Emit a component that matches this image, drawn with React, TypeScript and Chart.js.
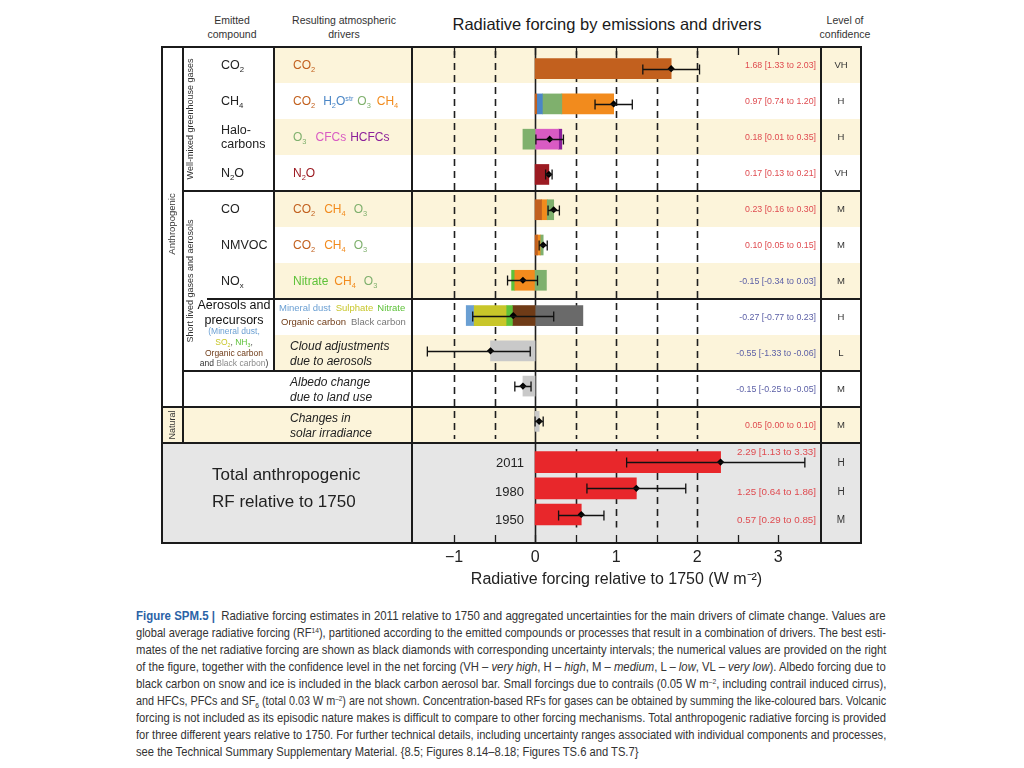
import React, { useEffect, useLayoutEffect, useRef } from "react";
import { Chart, registerables } from "chart.js";

Chart.register(...registerables);

// ---------------- DATA ----------------
const ROWS = [
  "CO2",
  "CH4",
  "Halocarbons",
  "N2O",
  "CO",
  "NMVOC",
  "NOx",
  "Aerosols and precursors",
  "Cloud adjustments due to aerosols",
  "Albedo change due to land use",
  "Changes in solar irradiance",
];

// Contribution of each resulting driver to each emitted compound row (W m-2)
const RF_CO2 = [1.68, 0.02, 0, 0, 0.08, 0.03, 0, 0, 0, 0, 0];
const RF_H2O_STR = [0, 0.07, 0, 0, 0, 0, 0, 0, 0, 0, 0];
const RF_O3 = [0, 0.24, -0.15, 0, 0.08, 0.03, 0.14, 0, 0, 0, 0];
const RF_CH4 = [0, 0.64, 0, 0, 0.07, 0.04, -0.25, 0, 0, 0, 0];
const RF_CFC = [0, 0, 0.29, 0, 0, 0, 0, 0, 0, 0, 0];
const RF_HCFC = [0, 0, 0.04, 0, 0, 0, 0, 0, 0, 0, 0];
const RF_N2O = [0, 0, 0, 0.17, 0, 0, 0, 0, 0, 0, 0];
const RF_NITRATE = [0, 0, 0, 0, 0, 0, -0.04, -0.07, 0, 0, 0];
const RF_DUST = [0, 0, 0, 0, 0, 0, 0, -0.09, 0, 0, 0];
const RF_SULPHATE = [0, 0, 0, 0, 0, 0, 0, -0.41, 0, 0, 0];
const RF_ORGANIC = [0, 0, 0, 0, 0, 0, 0, -0.28, 0, 0, 0];
const RF_BLACK = [0, 0, 0, 0, 0, 0, 0, 0.59, 0, 0, 0];
const RF_CLOUD = [0, 0, 0, 0, 0, 0, 0, 0, -0.55, 0, 0];
const RF_ALBEDO = [0, 0, 0, 0, 0, 0, 0, 0, 0, -0.15, 0];
const RF_SOLAR = [0, 0, 0, 0, 0, 0, 0, 0, 0, 0, 0.05];

// Stacking order of the drivers within each row (outward from zero)
const STACK_ORDER = [
  ["CO2"],
  ["CO2", "H2O", "O3", "CH4"],
  ["CFC", "HCFC", "O3"],
  ["N2O"],
  ["CO2", "CH4", "O3"],
  ["CO2", "CH4", "O3"],
  ["CH4", "NITRATE", "O3"],
  ["ORGANIC", "NITRATE", "SULPHATE", "DUST", "BLACK"],
  ["CLOUD"],
  ["ALBEDO"],
  ["SOLAR"],
];

// Net best estimates and uncertainty ranges
const BEST = [1.68, 0.97, 0.18, 0.17, 0.23, 0.1, -0.15, -0.27, -0.55, -0.15, 0.05];
const LOW = [1.33, 0.74, 0.01, 0.13, 0.16, 0.05, -0.34, -0.77, -1.33, -0.25, 0.0];
const HIGH = [2.03, 1.2, 0.35, 0.21, 0.3, 0.15, 0.03, 0.23, -0.06, -0.05, 0.1];
const CONFIDENCE = ["VH", "H", "H", "VH", "M", "M", "M", "H", "L", "M", "M"];

// Total anthropogenic RF relative to 1750
const TOTAL_YEARS = ["2011", "1980", "1950"];
const TOTAL_BEST = [2.29, 1.25, 0.57];
const TOTAL_LOW = [1.13, 0.64, 0.29];
const TOTAL_HIGH = [3.33, 1.86, 0.85];
const TOTAL_CONFIDENCE = ["H", "H", "M"];

// Axis
const X_MIN = -1.47;
const X_MAX = 3.48;
const X_TICKS = [-1, 0, 1, 2, 3];
const TICK_MARKS = [-1, -0.5, 0, 0.5, 1, 1.5, 2, 2.5, 3];
const DASHED_UPPER = [-1, -0.5, 0.5, 1, 1.5, 2];
const DASHED_TOTAL = [0.5, 1, 1.5, 2];

// ---------------- STYLE ----------------
const FONT = "'Liberation Sans', Arial, Helvetica, sans-serif";
const C = {
  CO2: "#c2601e",
  H2O: "#4b86c6",
  O3: "#7fb06d",
  CH4: "#f28b1d",
  CFC: "#d95bc3",
  HCFC: "#8c1f9a",
  N2O: "#9c1b22",
  NITRATE: "#5ec23a",
  DUST: "#6a9fd3",
  SULPHATE: "#c8c62a",
  ORGANIC: "#6f3b17",
  BLACK: "#6a6a6a",
  GREY: "#c9c9c9",
  TOTAL: "#e8272b",
};
const BAND = "#fcf4da";
const POS_TXT = "#df4b50";
const NEG_TXT = "#5b5fa6";

const DRIVERS: { key: string; label: string; values: number[]; color: string }[] = [
  { key: "CO2", label: "CO2", values: RF_CO2, color: C.CO2 },
  { key: "H2O", label: "H2O (stratospheric)", values: RF_H2O_STR, color: C.H2O },
  { key: "O3", label: "O3", values: RF_O3, color: C.O3 },
  { key: "CH4", label: "CH4", values: RF_CH4, color: C.CH4 },
  { key: "CFC", label: "CFCs", values: RF_CFC, color: C.CFC },
  { key: "HCFC", label: "HCFCs", values: RF_HCFC, color: C.HCFC },
  { key: "N2O", label: "N2O", values: RF_N2O, color: C.N2O },
  { key: "NITRATE", label: "Nitrate", values: RF_NITRATE, color: C.NITRATE },
  { key: "DUST", label: "Mineral dust", values: RF_DUST, color: C.DUST },
  { key: "SULPHATE", label: "Sulphate", values: RF_SULPHATE, color: C.SULPHATE },
  { key: "ORGANIC", label: "Organic carbon", values: RF_ORGANIC, color: C.ORGANIC },
  { key: "BLACK", label: "Black carbon", values: RF_BLACK, color: C.BLACK },
  { key: "CLOUD", label: "Cloud adjustments", values: RF_CLOUD, color: C.GREY },
  { key: "ALBEDO", label: "Albedo change", values: RF_ALBEDO, color: C.GREY },
  { key: "SOLAR", label: "Solar irradiance", values: RF_SOLAR, color: C.GREY },
];

// Layout
const TOP = 47;
const ROW_H = 36;
const X0 = 162;
const X_CAT = 183;
const X_EMIT = 274;
const X_PLOT = 412;
const X_VAL = 821;
const X_END = 861;
const Y_TOTAL = TOP + ROW_H * ROWS.length; // 443
const Y_BOTTOM = 543;
const rowY = (i: number) => TOP + ROW_H * i;
const rowC = (i: number) => TOP + ROW_H * i + ROW_H / 2;
const totalC = (i: number) => 463 + 28.5 * i;

const fmt = (v: number) => v.toFixed(2);

// floating ranges from the stacking order
function buildRanges() {
  const byKey: Record<string, ([number, number] | null)[]> = {};
  DRIVERS.forEach((d) => (byKey[d.key] = ROWS.map(() => null)));
  STACK_ORDER.forEach((order, r) => {
    let pos = 0;
    let neg = 0;
    order.forEach((k) => {
      const d = DRIVERS.find((dd) => dd.key === k)!;
      const v = d.values[r];
      if (v > 0) {
        byKey[k][r] = [pos, pos + v];
        pos += v;
      } else if (v < 0) {
        byKey[k][r] = [neg + v, neg];
        neg += v;
      }
    });
  });
  return byKey;
}

// ---------------- PLUGINS ----------------
function makeRefLines(cfg: {
  dashed: number[];
  dashTop?: number;
  zeroTop: number;
  zeroBottom: number;
  topTicks?: boolean;
  bottomTickY?: number;
}) {
  return {
    id: "refLines",
    beforeDatasetsDraw(chart: any) {
      const { ctx, chartArea, scales } = chart;
      const x = scales.x;
      ctx.save();
      ctx.strokeStyle = "#1e1e1e";
      ctx.lineWidth = 1.6;
      ctx.setLineDash([7, 5]);
      cfg.dashed.forEach((v) => {
        const px = Math.round(x.getPixelForValue(v)) + 0.5;
        ctx.beginPath();
        ctx.moveTo(px, cfg.dashTop ?? chartArea.top);
        ctx.lineTo(px, chartArea.bottom);
        ctx.stroke();
      });
      ctx.setLineDash([]);
      const z = Math.round(x.getPixelForValue(0)) + 0.5;
      ctx.lineWidth = 1.6;
      ctx.beginPath();
      ctx.moveTo(z, cfg.zeroTop);
      ctx.lineTo(z, cfg.zeroBottom);
      ctx.stroke();
      ctx.lineWidth = 1.3;
      TICK_MARKS.forEach((v) => {
        const px = Math.round(x.getPixelForValue(v)) + 0.5;
        if (cfg.topTicks) {
          ctx.beginPath();
          ctx.moveTo(px, 0);
          ctx.lineTo(px, 8);
          ctx.stroke();
        }
        if (cfg.bottomTickY !== undefined) {
          ctx.beginPath();
          ctx.moveTo(px, cfg.bottomTickY);
          ctx.lineTo(px, cfg.bottomTickY - 8);
          ctx.stroke();
        }
      });
      ctx.restore();
    },
  };
}

function makeErrorBars(low: number[], high: number[], cap: number) {
  return {
    id: "errorBars",
    afterDatasetsDraw(chart: any) {
      const { ctx, scales } = chart;
      const x = scales.x;
      const y = scales.y;
      ctx.save();
      ctx.strokeStyle = "#111";
      ctx.lineWidth = 1.3;
      low.forEach((lo, i) => {
        const yp = Math.round(y.getPixelForValue(i)) + 0.5;
        const x0 = x.getPixelForValue(lo);
        const x1 = x.getPixelForValue(high[i]);
        ctx.beginPath();
        ctx.moveTo(x0, yp);
        ctx.lineTo(x1, yp);
        ctx.moveTo(x0, yp - cap);
        ctx.lineTo(x0, yp + cap);
        ctx.moveTo(x1, yp - cap);
        ctx.lineTo(x1, yp + cap);
        ctx.stroke();
      });
      ctx.restore();
    },
  };
}

const diamondDataset = (data: number[]) => ({
  type: "line" as const,
  label: "Best estimate",
  data,
  indexAxis: "y" as const,
  showLine: false,
  pointStyle: "rectRot",
  pointRadius: 3.6,
  pointBackgroundColor: "#000",
  pointBorderColor: "#000",
  pointBorderWidth: 0,
  borderColor: "#000",
  order: -1,
});

// ---------------- CHARTS ----------------
function UpperChart() {
  const ref = useRef<HTMLCanvasElement>(null);
  useEffect(() => {
    const ranges = buildRanges();
    const chart = new Chart(ref.current!, {
      type: "bar",
      data: {
        labels: ROWS,
        datasets: [
          diamondDataset(BEST) as any,
          ...DRIVERS.map((d) => ({
            type: "bar" as const,
            label: d.label,
            data: ranges[d.key] as any,
            backgroundColor: d.color,
            borderWidth: 0,
            grouped: false,
            barThickness: 20,
          })),
        ],
      },
      options: {
        indexAxis: "y",
        responsive: false,
        animation: false,
        events: [],
        layout: { padding: 0 },
        plugins: { legend: { display: false }, tooltip: { enabled: false } },
        scales: {
          x: { type: "linear", min: X_MIN, max: X_MAX, display: false },
          y: { type: "category", display: false, offset: true },
        },
      },
      plugins: [
        makeRefLines({ dashed: DASHED_UPPER, zeroTop: 0, zeroBottom: 400, topTicks: true }),
        makeErrorBars(LOW, HIGH, 5),
      ],
    });
    return () => chart.destroy();
  }, []);
  return (
    <canvas
      ref={ref}
      width={X_VAL - X_PLOT}
      height={Y_TOTAL - TOP}
      style={{ position: "absolute", left: X_PLOT, top: TOP }}
    />
  );
}

function TotalChart() {
  const ref = useRef<HTMLCanvasElement>(null);
  useEffect(() => {
    const chart = new Chart(ref.current!, {
      type: "bar",
      data: {
        labels: TOTAL_YEARS,
        datasets: [
          diamondDataset(TOTAL_BEST) as any,
          {
            type: "bar",
            label: "Total anthropogenic RF",
            data: TOTAL_BEST,
            backgroundColor: C.TOTAL,
            borderWidth: 0,
            grouped: false,
            barThickness: 21,
          },
        ],
      },
      options: {
        indexAxis: "y",
        responsive: false,
        animation: false,
        events: [],
        layout: { padding: { top: 6, left: 0, right: 0, bottom: 0 } },
        plugins: { legend: { display: false }, tooltip: { enabled: false } },
        scales: {
          x: {
            type: "linear",
            min: X_MIN,
            max: X_MAX,
            position: "bottom",
            grid: { display: false, drawTicks: false },
            border: { display: false },
            afterBuildTicks: (s: any) => {
              s.ticks = X_TICKS.map((v) => ({ value: v }));
            },
            ticks: {
              padding: 20,
              color: "#222",
              font: { family: FONT, size: 16 },
              callback: (v: any) => (Number(v) < 0 ? "\u2212" + Math.abs(Number(v)) : String(v)),
            },
            title: {
              display: true,
              text: "Radiative forcing relative to 1750 (W m\u207B\u00B2)",
              color: "#222",
              font: { family: FONT, size: 16 },
              padding: { top: -17, bottom: 2 },
            },
          },
          y: { type: "category", display: false, offset: true },
        },
      },
      plugins: [
        makeRefLines({
          dashed: DASHED_TOTAL,
          zeroTop: 0,
          zeroBottom: Y_BOTTOM - Y_TOTAL,
          bottomTickY: Y_BOTTOM - Y_TOTAL,
        }),
        makeErrorBars(TOTAL_LOW, TOTAL_HIGH, 5),
      ],
    });
    return () => chart.destroy();
  }, []);
  return (
    <canvas
      ref={ref}
      width={X_VAL - X_PLOT}
      height={148}
      style={{ position: "absolute", left: X_PLOT, top: Y_TOTAL }}
    />
  );
}

// ---------------- HTML HELPERS ----------------
const S = ({ c }: { c: string }) => (
  <span style={{ fontSize: "0.62em", position: "relative", top: "0.35em" }}>{c}</span>
);
const Sup = ({ c }: { c: string }) => (
  <span style={{ fontSize: "0.6em", position: "relative", top: "-0.5em" }}>{c}</span>
);

function HLine({ x1, x2, y }: { x1: number; x2: number; y: number }) {
  return <div style={{ position: "absolute", left: x1 - 1, top: y - 1, width: x2 - x1 + 2, height: 2, background: "#1b1b1b" }} />;
}
function VLine({ x, y1, y2 }: { x: number; y1: number; y2: number }) {
  return <div style={{ position: "absolute", left: x - 1, top: y1 - 1, width: 2, height: y2 - y1 + 2, background: "#1b1b1b" }} />;
}

function T({
  x,
  y,
  size,
  children,
  color = "#222",
  align = "left",
  w = 300,
  italic = false,
  bold = false,
  lh = 1.2,
}: any) {
  const left = align === "left" ? x : align === "center" ? x - w / 2 : x - w;
  return (
    <div
      style={{
        position: "absolute",
        left,
        top: y,
        width: w,
        transform: "translateY(-50%)",
        fontSize: size,
        lineHeight: lh,
        color,
        textAlign: align,
        fontStyle: italic ? "italic" : "normal",
        fontWeight: bold ? "bold" : "normal",
        whiteSpace: "nowrap",
      }}
    >
      {children}
    </div>
  );
}

function Rot({ x, y, size, children }: any) {
  return (
    <div
      style={{
        position: "absolute",
        left: x,
        top: y,
        transform: "translate(-50%, -50%) rotate(-90deg)",
        fontSize: size,
        color: "#333",
        whiteSpace: "nowrap",
        lineHeight: 1,
      }}
    >
      {children}
    </div>
  );
}

const CAPTION_LINES: React.ReactNode[] = [
  <>
    <b style={{ color: "#2a62a6" }}>Figure SPM.5 |</b>&nbsp; Radiative forcing estimates in 2011 relative to 1750 and aggregated uncertainties for the main drivers of climate change. Values are
  </>,
  <>
    global average radiative forcing (RF<Sup c="14" />), partitioned according to the emitted compounds or processes that result in a combination of drivers. The best esti-
  </>,
  <>mates of the net radiative forcing are shown as black diamonds with corresponding uncertainty intervals; the numerical values are provided on the right</>,
  <>
    of the figure, together with the confidence level in the net forcing (VH – <i>very high</i>, H – <i>high</i>, M – <i>medium</i>, L – <i>low</i>, VL – <i>very low</i>). Albedo forcing due to
  </>,
  <>
    black carbon on snow and ice is included in the black carbon aerosol bar. Small forcings due to contrails (0.05 W m<Sup c="–2" />, including contrail induced cirrus),
  </>,
  <>
    and HFCs, PFCs and SF<S c="6" /> (total 0.03 W m<Sup c="–2" />) are not shown. Concentration-based RFs for gases can be obtained by summing the like-coloured bars. Volcanic
  </>,
  <>forcing is not included as its episodic nature makes is difficult to compare to other forcing mechanisms. Total anthropogenic radiative forcing is provided</>,
  <>for three different years relative to 1750. For further technical details, including uncertainty ranges associated with individual components and processes,</>,
  <>see the Technical Summary Supplementary Material. {"{"}8.5; Figures 8.14–8.18; Figures TS.6 and TS.7{"}"}</>,
];

function Caption() {
  const refs = useRef<(HTMLSpanElement | null)[]>([]);
  useLayoutEffect(() => {
    const widths = refs.current.map((el) => (el ? el.offsetWidth : 1));
    const n = widths.length;
    const scales = widths.map((w) => 750 / w);
    const avg = scales.slice(0, n - 1).reduce((a, b) => a + b, 0) / (n - 1);
    refs.current.forEach((el, i) => {
      if (!el) return;
      const s = i === n - 1 ? avg : scales[i];
      el.style.transform = `scaleX(${s})`;
    });
  }, []);
  return (
    <>
      {CAPTION_LINES.map((l, i) => (
        <div
          key={"cap" + i}
          style={{
            position: "absolute",
            left: 136,
            top: 607 + 17 * i,
            height: 17,
            lineHeight: "17px",
            fontSize: 13,
            color: "#333",
            whiteSpace: "nowrap",
          }}
        >
          <span
            ref={(el) => {
              refs.current[i] = el;
            }}
            style={{ display: "inline-block", transformOrigin: "0 0" }}
          >
            {l}
          </span>
        </div>
      ))}
    </>
  );
}

const DRIVER_TEXT: React.ReactNode[] = [
  <span style={{ color: C.CO2 }}>CO<S c="2" /></span>,
  <>
    <span style={{ color: C.CO2 }}>CO<S c="2" /></span>
    <span style={{ color: C.H2O, marginLeft: 8 }}>H<S c="2" />O<Sup c="str" /></span>
    <span style={{ color: C.O3, marginLeft: 4 }}>O<S c="3" /></span>
    <span style={{ color: C.CH4, marginLeft: 6 }}>CH<S c="4" /></span>
  </>,
  <>
    <span style={{ color: C.O3 }}>O<S c="3" /></span>
    <span style={{ color: C.CFC, marginLeft: 9 }}>CFCs</span>
    <span style={{ color: C.HCFC, marginLeft: 4 }}>HCFCs</span>
  </>,
  <span style={{ color: C.N2O }}>N<S c="2" />O</span>,
  <>
    <span style={{ color: C.CO2 }}>CO<S c="2" /></span>
    <span style={{ color: C.CH4, marginLeft: 9 }}>CH<S c="4" /></span>
    <span style={{ color: C.O3, marginLeft: 8 }}>O<S c="3" /></span>
  </>,
  <>
    <span style={{ color: C.CO2 }}>CO<S c="2" /></span>
    <span style={{ color: C.CH4, marginLeft: 9 }}>CH<S c="4" /></span>
    <span style={{ color: C.O3, marginLeft: 8 }}>O<S c="3" /></span>
  </>,
  <>
    <span style={{ color: C.NITRATE }}>Nitrate</span>
    <span style={{ color: C.CH4, marginLeft: 6 }}>CH<S c="4" /></span>
    <span style={{ color: C.O3, marginLeft: 8 }}>O<S c="3" /></span>
  </>,
];

const EMITTED_TEXT: React.ReactNode[] = [
  <>CO<S c="2" /></>,
  <>CH<S c="4" /></>,
  <>Halo-<br />carbons</>,
  <>N<S c="2" />O</>,
  <>CO</>,
  <>NMVOC</>,
  <>NO<S c="x" /></>,
];

export default function App() {
  const bands = [0, 2, 4, 6, 8, 10];
  return (
    <div
      style={{
        position: "absolute",
        left: 0,
        top: 0,
        width: 1024,
        height: 768,
        background: "#fff",
        fontFamily: FONT,
        overflow: "hidden",
      }}
    >
      {/* row bands */}
      {bands.map((i) => (
        <div
          key={"b" + i}
          style={{
            position: "absolute",
            left: i === 10 ? X0 : X_EMIT,
            top: rowY(i),
            width: X_END - (i === 10 ? X0 : X_EMIT),
            height: ROW_H,
            background: BAND,
          }}
        />
      ))}
      {/* totals background */}
      <div style={{ position: "absolute", left: X0, top: Y_TOTAL, width: X_END - X0, height: Y_BOTTOM - Y_TOTAL, background: "#e6e6e6" }} />

      <UpperChart />
      <TotalChart />

      {/* frame */}
      <HLine x1={X0} x2={X_END} y={TOP} />
      <HLine x1={X_CAT} x2={X_END} y={rowY(4)} />
      <HLine x1={208} x2={X_END} y={rowY(7)} />
      <HLine x1={X_CAT} x2={X_END} y={rowY(9)} />
      <HLine x1={X0} x2={X_END} y={rowY(10)} />
      <HLine x1={X0} x2={X_END} y={Y_TOTAL} />
      <HLine x1={X0} x2={X_END} y={Y_BOTTOM} />
      <VLine x={X0} y1={TOP} y2={Y_BOTTOM} />
      <VLine x={X_CAT} y1={TOP} y2={Y_TOTAL} />
      <VLine x={X_EMIT} y1={TOP} y2={rowY(9)} />
      <VLine x={X_PLOT} y1={TOP} y2={Y_BOTTOM} />
      <VLine x={X_VAL} y1={TOP} y2={Y_BOTTOM} />
      <VLine x={X_END} y1={TOP} y2={Y_BOTTOM} />

      {/* headers */}
      <T x={232} y={20} size={10.5} align="center" w={120} color="#333">Emitted</T>
      <T x={232} y={34} size={10.5} align="center" w={120} color="#333">compound</T>
      <T x={344} y={20} size={10.5} align="center" w={140} color="#333">Resulting atmospheric</T>
      <T x={344} y={34} size={10.5} align="center" w={140} color="#333">drivers</T>
      <T x={607} y={25} size={16.5} align="center" w={400} color="#1a1a1a">Radiative forcing by emissions and drivers</T>
      <T x={845} y={20} size={10.5} align="center" w={80} color="#333">Level of</T>
      <T x={845} y={34} size={10.5} align="center" w={80} color="#333">confidence</T>

      {/* rotated category labels */}
      <Rot x={172} y={(TOP + rowY(10)) / 2 - 3} size={9.5}>Anthropogenic</Rot>
      <Rot x={172} y={rowC(10)} size={9}>Natural</Rot>
      <Rot x={190} y={(TOP + rowY(4)) / 2} size={9}>Well-mixed greenhouse gases</Rot>
      <Rot x={190} y={(rowY(4) + rowY(9)) / 2} size={9}>Short lived gases and aerosols</Rot>

      {/* emitted compounds */}
      {EMITTED_TEXT.map((t, i) => (
        <T key={"e" + i} x={221} y={rowC(i)} size={12.5} color="#222" lh={1.15}>{t}</T>
      ))}
      <T x={234} y={305} size={12.5} align="center" w={90} color="#111">Aerosols and</T>
      <T x={234} y={320} size={12.5} align="center" w={90} color="#111">precursors</T>
      <T x={234} y={331} size={8.5} align="center" w={90} color={C.DUST}>(Mineral dust,</T>
      <T x={234} y={342} size={8.5} align="center" w={90}>
        <span style={{ color: C.SULPHATE }}>SO<S c="2" /></span>
        <span style={{ color: "#555" }}>, </span>
        <span style={{ color: C.NITRATE }}>NH<S c="3" /></span>
        <span style={{ color: "#555" }}>,</span>
      </T>
      <T x={234} y={353} size={8.5} align="center" w={90} color={C.ORGANIC}>Organic carbon</T>
      <T x={234} y={363} size={8.5} align="center" w={90} color="#333">
        and <span style={{ color: "#8a8a8a" }}>Black carbon</span>)
      </T>

      {/* drivers */}
      {DRIVER_TEXT.map((t, i) => (
        <T key={"d" + i} x={293} y={rowC(i)} size={12}>{t}</T>
      ))}
      <T x={279} y={308} size={9.5}>
        <span style={{ color: C.DUST }}>Mineral dust</span>
        <span style={{ color: C.SULPHATE, marginLeft: 5 }}>Sulphate</span>
        <span style={{ color: C.NITRATE, marginLeft: 4 }}>Nitrate</span>
      </T>
      <T x={281} y={322} size={9.5}>
        <span style={{ color: C.ORGANIC }}>Organic carbon</span>
        <span style={{ color: "#777", marginLeft: 5 }}>Black carbon</span>
      </T>
      <T x={290} y={rowC(8) - 7} size={12} italic color="#222">Cloud adjustments</T>
      <T x={290} y={rowC(8) + 8} size={12} italic color="#222">due to aerosols</T>
      <T x={290} y={rowC(9) - 7} size={12} italic color="#222">Albedo change</T>
      <T x={290} y={rowC(9) + 8} size={12} italic color="#222">due to land use</T>
      <T x={290} y={rowC(10) - 7} size={12} italic color="#222">Changes in</T>
      <T x={290} y={rowC(10) + 8} size={12} italic color="#222">solar irradiance</T>

      {/* values and confidence */}
      {BEST.map((b, i) => (
        <T key={"v" + i} x={816} y={rowC(i)} size={8.8} align="right" w={140} color={b >= 0 ? POS_TXT : NEG_TXT}>
          {`${fmt(b)} [${fmt(LOW[i])} to ${fmt(HIGH[i])}]`}
        </T>
      ))}
      {CONFIDENCE.map((c, i) => (
        <T key={"c" + i} x={841} y={rowC(i)} size={9.5} align="center" w={40} color="#333">{c}</T>
      ))}

      {/* totals */}
      <T x={212} y={475} size={17} color="#222">Total anthropogenic</T>
      <T x={212} y={502} size={17} color="#222">RF relative to 1750</T>
      {TOTAL_YEARS.map((yr, i) => (
        <T key={"y" + i} x={524} y={totalC(i)} size={13} align="right" w={60} color="#222">{yr}</T>
      ))}
      {TOTAL_BEST.map((b, i) => (
        <T key={"tv" + i} x={816} y={i === 0 ? 452 : totalC(i)} size={9.8} align="right" w={140} color={POS_TXT}>
          {`${fmt(b)} [${fmt(TOTAL_LOW[i])} to ${fmt(TOTAL_HIGH[i])}]`}
        </T>
      ))}
      {TOTAL_CONFIDENCE.map((c, i) => (
        <T key={"tc" + i} x={841} y={totalC(i)} size={10} align="center" w={40} color="#333">{c}</T>
      ))}

      {/* caption */}
      <Caption />
    </div>
  );
}
